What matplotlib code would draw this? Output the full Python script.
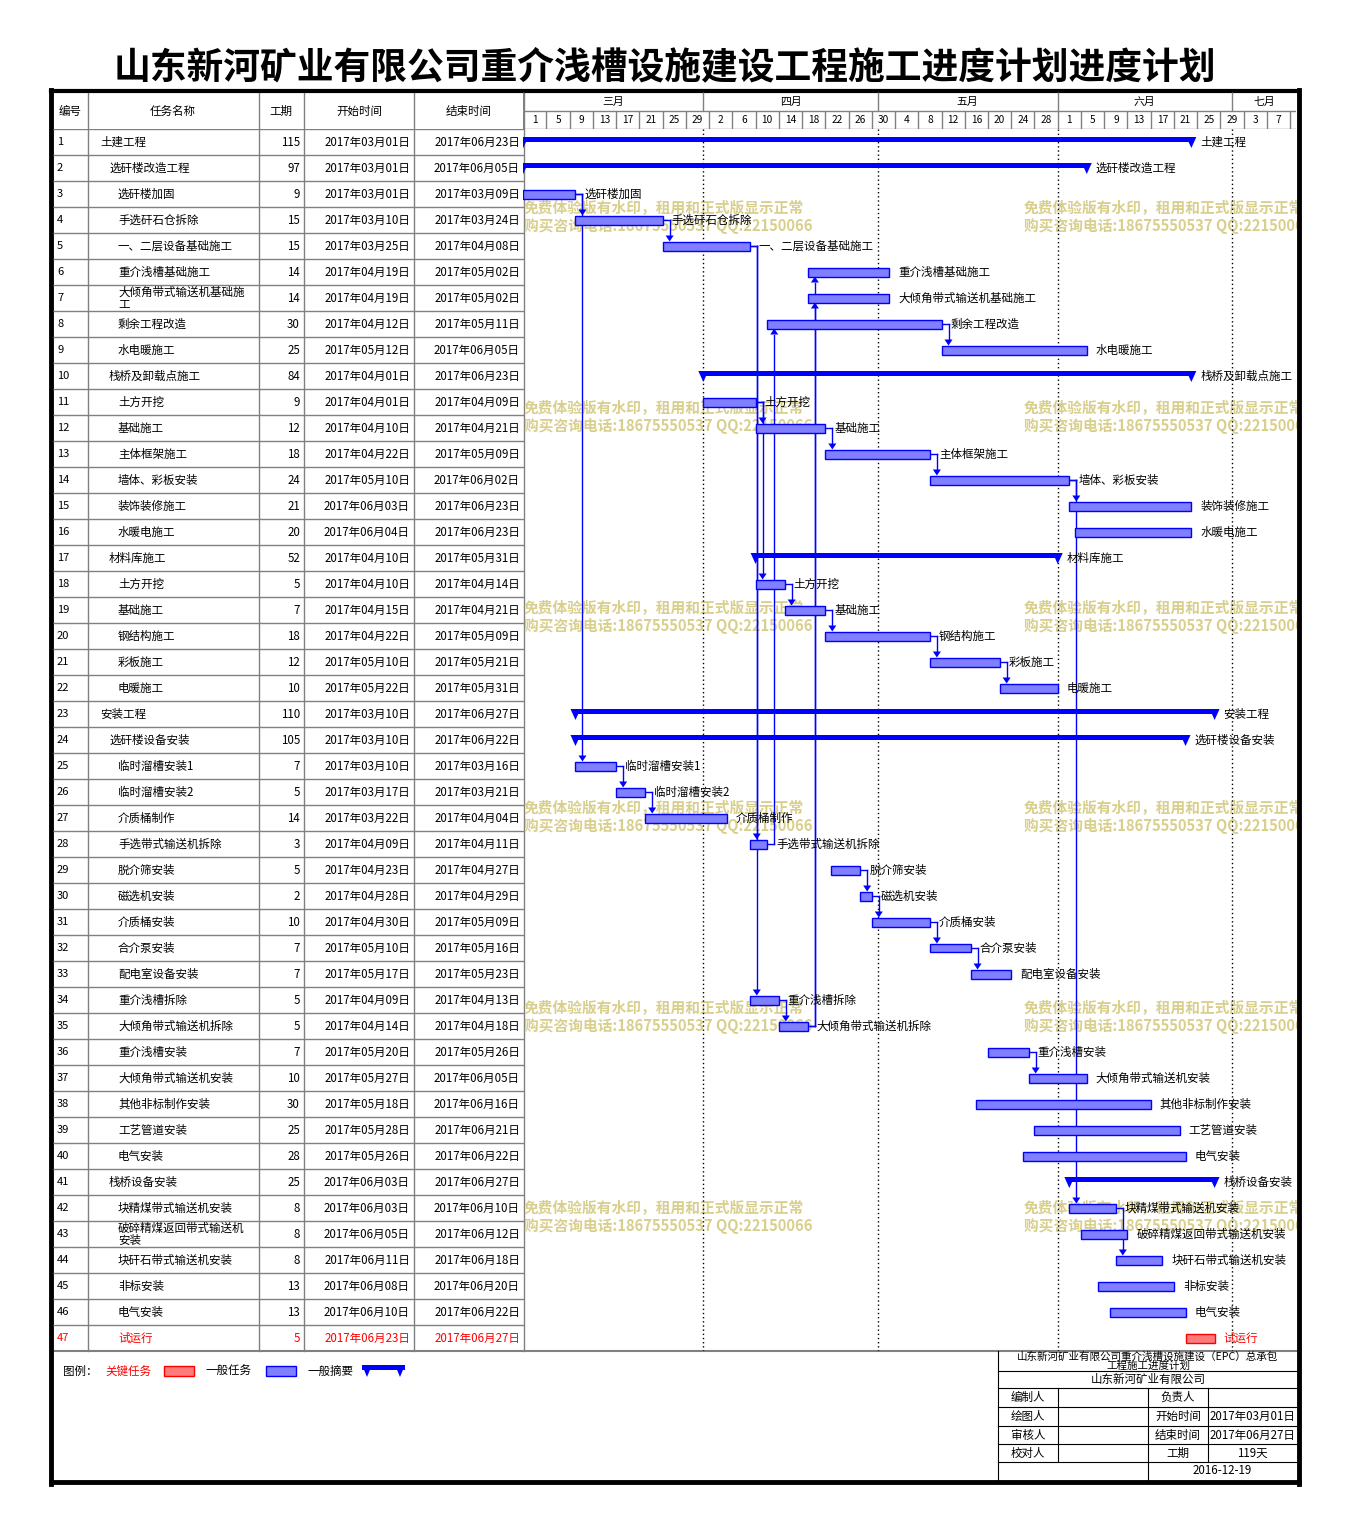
import numpy as np
import matplotlib
matplotlib.use("Agg")
import matplotlib.pyplot as plt
from matplotlib.patches import Polygon, Rectangle

plt.rcParams['font.family'] = ['Noto Sans CJK SC', 'DejaVu Sans']

# ---- data ----
title = "山东新河矿业有限公司重介浅槽设施建设工程施工进度计划进度计划"

task_names = ["土建工程", "选矸楼改造工程", "选矸楼加固", "手选矸石仓拆除", "一、二层设备基础施工",
              "重介浅槽基础施工", "大倾角带式输送机基础施工", "剩余工程改造", "水电暖施工", "栈桥及卸载点施工",
              "土方开挖", "基础施工", "主体框架施工", "墙体、彩板安装", "装饰装修施工",
              "水暖电施工", "材料库施工", "土方开挖", "基础施工", "钢结构施工",
              "彩板施工", "电暖施工", "安装工程", "选矸楼设备安装", "临时溜槽安装1",
              "临时溜槽安装2", "介质桶制作", "手选带式输送机拆除", "脱介筛安装", "磁选机安装",
              "介质桶安装", "合介泵安装", "配电室设备安装", "重介浅槽拆除", "大倾角带式输送机拆除",
              "重介浅槽安装", "大倾角带式输送机安装", "其他非标制作安装", "工艺管道安装", "电气安装",
              "栈桥设备安装", "块精煤带式输送机安装", "破碎精煤返回带式输送机安装", "块矸石带式输送机安装", "非标安装",
              "电气安装", "试运行"]
levels = [1, 2, 3, 3, 3, 3, 3, 3, 3, 2,
          3, 3, 3, 3, 3, 3, 2, 3, 3, 3,
          3, 3, 1, 2, 3, 3, 3, 3, 3, 3,
          3, 3, 3, 3, 3, 3, 3, 3, 3, 3,
          2, 3, 3, 3, 3, 3, 3]
durations = [115, 97, 9, 15, 15, 14, 14, 30, 25, 84,
             9, 12, 18, 24, 21, 20, 52, 5, 7, 18,
             12, 10, 110, 105, 7, 5, 14, 3, 5, 2,
             10, 7, 7, 5, 5, 7, 10, 30, 25, 28,
             25, 8, 8, 8, 13, 13, 5]
starts = ["03-01", "03-01", "03-01", "03-10", "03-25", "04-19", "04-19", "04-12", "05-12", "04-01",
          "04-01", "04-10", "04-22", "05-10", "06-03", "06-04", "04-10", "04-10", "04-15", "04-22",
          "05-10", "05-22", "03-10", "03-10", "03-10", "03-17", "03-22", "04-09", "04-23", "04-28",
          "04-30", "05-10", "05-17", "04-09", "04-14", "05-20", "05-27", "05-18", "05-28", "05-26",
          "06-03", "06-03", "06-05", "06-11", "06-08", "06-10", "06-23"]
ends = ["06-23", "06-05", "03-09", "03-24", "04-08", "05-02", "05-02", "05-11", "06-05", "06-23",
        "04-09", "04-21", "05-09", "06-02", "06-23", "06-23", "05-31", "04-14", "04-21", "05-09",
        "05-21", "05-31", "06-27", "06-22", "03-16", "03-21", "04-04", "04-11", "04-27", "04-29",
        "05-09", "05-16", "05-23", "04-13", "04-18", "05-26", "06-05", "06-16", "06-21", "06-22",
        "06-27", "06-10", "06-12", "06-18", "06-20", "06-22", "06-27"]
summary_rows = [1, 2, 10, 17, 23, 24, 41]
critical_rows = [47]
links = [(3, 4), (3, 25), (4, 5), (5, 28), (5, 34), (8, 9), (11, 12), (11, 18), (12, 13), (13, 14),
         (14, 15), (14, 42), (18, 19), (19, 20), (20, 21), (21, 22), (25, 26), (26, 27), (28, 8),
         (29, 30), (30, 31), (31, 32), (32, 33), (34, 35), (35, 6), (35, 7), (36, 37), (42, 44)]

month_labels = ["三月", "四月", "五月", "六月", "七月"]
month_starts = ["03-01", "04-01", "05-01", "06-01", "07-01"]
day_labels = [1, 5, 9, 13, 17, 21, 25, 29, 2, 6, 10, 14, 18, 22, 26, 30,
              4, 8, 12, 16, 20, 24, 28, 1, 5, 9, 13, 17, 21, 25, 29, 3, 7]

col_headers = ["编号", "任务名称", "工期", "开始时间", "结束时间"]
info_left = ["编制人", "绘图人", "审核人", "校对人"]
info_mid = ["负责人", "开始时间", "结束时间", "工期"]
info_right = ["", "2017年03月01日", "2017年06月27日", "119天"]
wm_line1 = "免费体验版有水印，租用和正式版显示正常"
wm_line2 = "购买咨询电话:18675550537 QQ:22150066"

# ---- layout (pixels) ----
W, H = 1347, 1531
X0, DAY = 523.2, 5.81
NDAYS = 133
TOP, ROW_H = 129, 26
N = len(task_names)
BOT = TOP + N * ROW_H
BLUE = "#0000ff"
GRID = "#808080"
FS = 8.3


def day(s):
    return int((np.datetime64("2017-" + s) - np.datetime64("2017-03-01")).astype(int))


def fmt(s):
    return "2017年%s月%s日" % (s[:2], s[3:])


def rect(x0, y0, x1, y1):
    return [x0 / W, 1 - y1 / H, (x1 - x0) / W, (y1 - y0) / H]


d0 = np.array([day(s) for s in starts])
d1 = np.array([day(s) + 1 for s in ends])
rows = np.arange(1, N + 1)

fig = plt.figure(figsize=(W / 100, H / 100), dpi=100)

# base axes in pixel units: frame, headers, legend, title block
ax0 = fig.add_axes([0, 0, 1, 1], zorder=0)
ax0.set_xlim(0, W)
ax0.set_ylim(H, 0)
ax0.axis("off")

ax0.text(665, 68, title, ha="center", va="center", fontsize=26.5, fontweight="bold")

# table
axt = fig.add_axes(rect(53, TOP, 524, BOT), zorder=1)
axt.set_xlim(53, 524)
axt.set_ylim(N + 0.5, 0.5)
axt.axis("off")
axt.hlines(np.arange(0.5, N + 1), 53, 524, color=GRID, lw=1)
for xc in [88, 259, 304, 414]:
    ax0.plot([xc, xc], [92, BOT], color=GRID, lw=1)
ax0.plot([524, 524], [92, BOT], color=GRID, lw=1)
for xc, lab in zip([70, 173, 281, 359, 469], col_headers):
    ax0.text(xc, 111, lab, ha="center", va="center", fontsize=FS)

indent = {1: 100, 2: 109, 3: 118}
for i in rows:
    k = i - 1
    col = "red" if i in critical_rows else "black"
    nm = task_names[k]
    if len(nm) > 11:
        nm = nm[:11] + "\n" + nm[11:]
    axt.text(57, i, str(i), ha="left", va="center", fontsize=FS - 0.3, color=col)
    axt.text(indent[levels[k]], i, nm, ha="left", va="center", fontsize=FS, color=col,
             linespacing=0.9)
    axt.text(300, i, str(durations[k]), ha="right", va="center", fontsize=FS, color=col)
    axt.text(410, i, fmt(starts[k]), ha="right", va="center", fontsize=FS, color=col)
    axt.text(520, i, fmt(ends[k]), ha="right", va="center", fontsize=FS, color=col)

# timeline header
axh = fig.add_axes(rect(X0, 92, X0 + NDAYS * DAY, TOP), zorder=1)
axh.set_xlim(0, NDAYS)
axh.set_ylim(37, 0)
axh.axis("off")
axh.hlines([19, 37], 0, NDAYS, color=GRID, lw=1)
ms = [day(s) for s in month_starts] + [NDAYS]
for m, lab in enumerate(month_labels):
    axh.vlines(ms[m], 0, 19, color=GRID, lw=1)
    axh.text((ms[m] + ms[m + 1]) / 2, 9.5, lab, ha="center", va="center", fontsize=7.8)
cells = np.arange(len(day_labels)) * 4
axh.vlines(np.append(cells, cells[-1] + 4), 19, 37, color=GRID, lw=1)
for c, lab in zip(cells, day_labels):
    axh.text(c + 2, 28, str(lab), ha="center", va="center", fontsize=7.3)

# watermark layer
axw = fig.add_axes(rect(524, TOP, 1297, BOT), zorder=1.5)
axw.set_xlim(524, 1297)
axw.set_ylim(BOT, TOP)
axw.axis("off")
for yy in range(208, 1300, 200):
    for xx in [524, 1024]:
        axw.text(xx, yy, wm_line1, ha="left", va="center", fontsize=10.6, fontweight="bold",
                 color="#d9cf8c", clip_on=True)
        axw.text(xx, yy + 18, wm_line2, ha="left", va="center", fontsize=10.6, fontweight="bold",
                 color="#d9cf8c", clip_on=True)

# gantt
axg = fig.add_axes(rect(X0, TOP, X0 + NDAYS * DAY, BOT), zorder=2)
axg.set_xlim(0, NDAYS)
axg.set_ylim(N + 0.5, 0.5)
axg.axis("off")
axg.patch.set_alpha(0)
axg.vlines([day(s) for s in month_starts[1:]], 0.5, N + 0.5, color="black", lw=1,
           linestyles=(0, (1, 2)))

px_d = 1 / DAY
px_r = 1 / ROW_H
BAR_H = 9 * px_r

# links
for p, s in links:
    pe = d1[p - 1]
    vx = pe + 7 * px_d
    axg.plot([pe, vx], [p, p], color=BLUE, lw=1, zorder=2)
    if s > p:
        tip = s - BAR_H / 2
        back = tip - 6 * px_r
    else:
        tip = s + BAR_H / 2
        back = tip + 6 * px_r
    axg.plot([vx, vx], [p, back], color=BLUE, lw=1, zorder=2)
    axg.add_patch(Polygon([(vx - 4 * px_d, back), (vx + 4 * px_d, back), (vx, tip)],
                          closed=True, color=BLUE, lw=0, zorder=3))

# bars
for i in rows:
    k = i - 1
    if i in summary_rows:
        top = i - 5 * px_r
        axg.add_patch(Rectangle((d0[k], top), d1[k] - d0[k], 5 * px_r, color=BLUE, lw=0, zorder=4))
        for xe in (d0[k], d1[k]):
            axg.add_patch(Polygon([(xe - 5 * px_d, top), (xe + 5 * px_d, top), (xe, i + 6 * px_r)],
                                  closed=True, color=BLUE, lw=0, zorder=4))
        lx = d1[k] + 9 * px_d
        col = "black"
    else:
        crit = i in critical_rows
        fc, ec = ("#ff7a7a", "red") if crit else ("#7f7fff", BLUE)
        axg.barh(i, d1[k] - d0[k], left=d0[k], height=BAR_H, color=fc, edgecolor=ec,
                 linewidth=1, zorder=4)
        lx = d1[k] + 9 * px_d
        col = "red" if crit else "black"
    axg.text(lx, i, task_names[k], ha="left", va="center", fontsize=FS, color=col,
             clip_on=False, zorder=5)

# bottom line, legend
ax0.plot([53, 1297], [BOT, BOT], color=GRID, lw=1.5)
ax0.text(63, 1371, "图例：", ha="left", va="center", fontsize=FS)
ax0.text(105, 1371, "关键任务", ha="left", va="center", fontsize=FS, color="red")
ax0.add_patch(Rectangle((164, 1366), 30, 10, facecolor="#ff7a7a", edgecolor="red", lw=1))
ax0.text(206, 1371, "一般任务", ha="left", va="center", fontsize=FS)
ax0.add_patch(Rectangle((266, 1366), 30, 10, facecolor="#7f7fff", edgecolor=BLUE, lw=1))
ax0.text(308, 1371, "一般摘要", ha="left", va="center", fontsize=FS)
ax0.add_patch(Rectangle((362, 1365), 43, 5, color=BLUE, lw=0))
for xe in (367, 400):
    ax0.add_patch(Polygon([(xe - 5, 1365), (xe + 5, 1365), (xe, 1377)], closed=True, color=BLUE, lw=0))

# title block
tb_lines = [1371, 1388, 1407, 1426, 1444, 1462]
for yy in tb_lines:
    ax0.plot([998, 1297], [yy, yy], color="black", lw=0.8)
ax0.plot([998, 998], [BOT, 1482], color="black", lw=0.8)
ax0.plot([1148, 1148], [1388, 1482], color="black", lw=0.8)
for xc in [1058, 1208]:
    ax0.plot([xc, xc], [1388, 1462], color="black", lw=0.8)
ax0.text(1148, 1361, "山东新河矿业有限公司重介浅槽设施建设（EPC）总承包\n工程施工进度计划",
         ha="center", va="center", fontsize=7.6, linespacing=0.85)
ax0.text(1148, 1379.5, "山东新河矿业有限公司", ha="center", va="center", fontsize=FS)
for j in range(4):
    yc = (tb_lines[j + 1] + tb_lines[j + 2]) / 2 if j < 3 else (1444 + 1462) / 2
    ax0.text(1028, yc, info_left[j], ha="center", va="center", fontsize=FS)
    ax0.text(1178, yc, info_mid[j], ha="center", va="center", fontsize=FS)
    ax0.text(1252, yc, info_right[j], ha="center", va="center", fontsize=FS)
ax0.text(1222, 1471, "2016-12-19", ha="center", va="center", fontsize=FS)

# outer frame
ax0.plot([51, 51], [90, 1484], color="black", lw=3.5, solid_capstyle="projecting")
ax0.plot([1299, 1299], [90, 1484], color="black", lw=3.5, solid_capstyle="projecting")
ax0.plot([51, 1299], [91, 91], color="black", lw=3, solid_capstyle="projecting")
ax0.plot([51, 1299], [1482, 1482], color="black", lw=3.5, solid_capstyle="projecting")

fig.savefig("out.png", dpi=100)
